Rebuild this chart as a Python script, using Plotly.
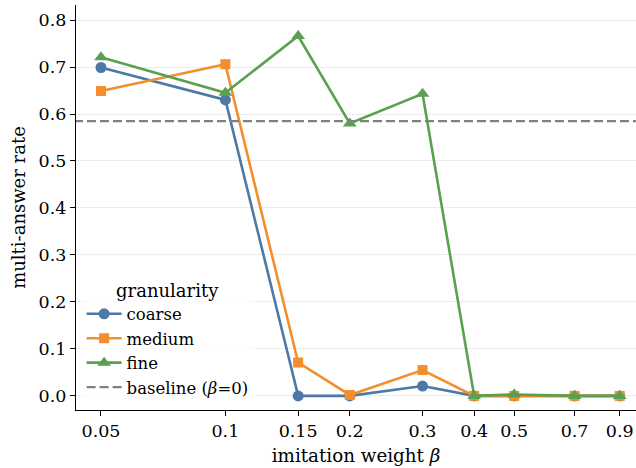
import plotly.graph_objects as go

beta = [0.05, 0.1, 0.15, 0.2, 0.3, 0.4, 0.5, 0.7, 0.9]
tick_labels = ["0.05", "0.1", "0.15", "0.2", "0.3", "0.4", "0.5", "0.7", "0.9"]
coarse = [0.699, 0.630, 0.0, 0.0, 0.021, 0.0, 0.0, 0.0, 0.0]
medium = [0.649, 0.706, 0.071, 0.002, 0.055, 0.0, 0.0, 0.0, 0.0]
fine = [0.721, 0.645, 0.766, 0.580, 0.643, 0.0, 0.003, 0.0, 0.0]
baseline = 0.585

FONT = "DejaVu Serif"
fig = go.Figure()

series = [
    ("coarse", coarse, "#4E79A7", "circle", 11),
    ("medium", medium, "#F28E2B", "square", 10),
    ("fine", fine, "#59A14F", "triangle-up", 12),
]
for name, vals, color, sym, size in series:
    fig.add_trace(go.Scatter(
        x=beta, y=vals, mode="lines+markers", name=name,
        line=dict(color=color, width=2.6),
        marker=dict(symbol=sym, size=size, color=color),
    ))

fig.add_trace(go.Scatter(
    x=[0.04, 1.1], y=[baseline, baseline], mode="lines",
    name="baseline (<i>β</i>=0)",
    line=dict(color="#808080", width=2.2, dash="9px,4px"),
))

fig.update_layout(
    width=636, height=468,
    margin=dict(l=76, r=0, t=5, b=58, autoexpand=False),
    plot_bgcolor="white", paper_bgcolor="white",
    font=dict(family=FONT, size=16, color="black"),
    showlegend=True,
    legend=dict(
        x=0.01, y=0.012, xanchor="left", yanchor="bottom",
        bgcolor="rgba(255,255,255,0.8)",
        title=dict(text="granularity", side="top center", font=dict(size=18, family=FONT)),
        font=dict(size=16.5, family=FONT),
        tracegroupgap=0, itemwidth=35,
    ),
    xaxis=dict(
        type="log", automargin=False,
        range=[-1.3615, -0.0063],
        tickvals=beta, ticktext=tick_labels,
        showgrid=False, zeroline=False,
        showline=True, linecolor="black", linewidth=1.2,
        ticks="outside", ticklen=5, tickcolor="black",
        tickfont=dict(size=17.5, family=FONT),
        title=dict(text="imitation weight <i>β</i>", font=dict(size=18.3, family=FONT), standoff=9),
    ),
    yaxis=dict(
        automargin=False,
        range=[-0.03, 0.832],
        tickvals=[0, 0.1, 0.2, 0.3, 0.4, 0.5, 0.6, 0.7, 0.8],
        tickformat=".1f",
        showgrid=True, gridcolor="#ececec", gridwidth=1,
        zeroline=False,
        showline=True, linecolor="black", linewidth=1.2,
        ticks="outside", ticklen=5, tickcolor="black",
        tickfont=dict(size=17.5, family=FONT),
        title=dict(text="multi-answer rate", font=dict(size=18, family=FONT), standoff=8),
    ),
)

fig.write_html("out.html", config={"displayModeBar": False},
               post_script="document.body.style.margin='0';")
